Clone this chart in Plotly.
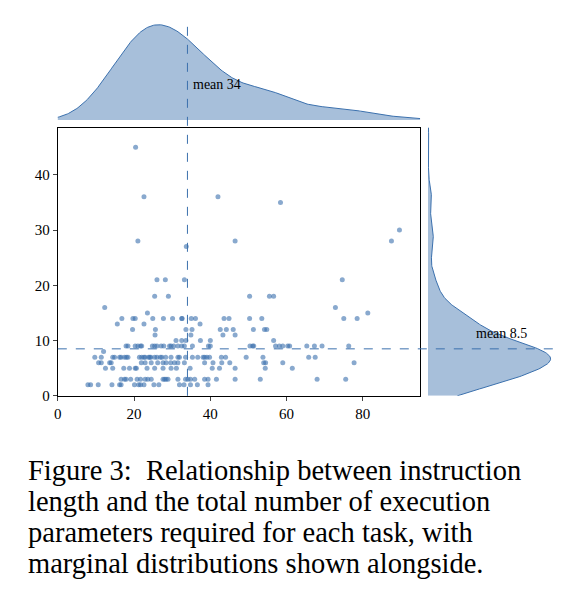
import numpy as np
import plotly.graph_objects as go

# instruction length (x) and number of execution parameters (y), grouped by y value
rows = {
    45: [20.4],
    36: [22.6, 42.0],
    35: [58.4],
    30: [89.6],
    28: [21.0, 46.5, 87.5],
    27: [33.7],
    21: [26.0, 28.2, 33.2, 74.6],
    18: [25.4, 29.0, 50.3, 55.5, 56.6],
    16: [12.3, 72.8],
    15: [23.5, 81.3],
    14: [16.8, 19.7, 20.3, 24.9, 27.7, 30.1, 32.5, 32.6, 35.0, 36.1, 43.6, 44.9, 50.3, 53.5, 75.0, 78.5],
    13: [15.6, 22.6, 37.3],
    12: [19.6, 25.6, 33.6, 35.2, 42.6, 44.2, 46.0, 51.3, 54.2, 54.8],
    11: [25.5, 34.9, 43.3, 46.5],
    10: [31.0, 32.5, 33.6, 37.4, 40.0, 56.6],
    9: [17.9, 18.4, 20.3, 21.0, 21.7, 22.0, 24.8, 25.4, 26.0, 27.1, 27.8, 29.3, 29.7, 30.4, 31.5,
        32.5, 33.2, 35.3, 39.5, 40.0, 50.4, 51.1, 51.4, 57.1, 58.1, 59.0, 60.3, 60.8, 65.3, 67.3,
        69.3, 76.3],
    8: [12.0],
    7: [9.7, 11.4, 14.4, 14.9, 16.2, 16.6, 17.5, 18.0, 18.4, 21.4, 22.0, 22.6, 22.9, 23.8, 24.1,
        24.4, 25.4, 26.0, 26.9, 27.3, 28.3, 29.7, 31.5, 31.9, 33.5, 35.3, 36.7, 38.1, 38.5, 39.1,
        39.8, 42.9, 44.0, 49.4, 53.8, 65.8, 67.5],
    6: [10.7, 11.4, 13.6, 14.0, 21.9, 22.9, 24.5, 26.2, 27.6, 28.4, 29.6, 30.6, 31.5, 33.2, 38.5,
        40.7, 43.0, 45.1, 54.0, 54.5, 59.0, 77.7],
    5: [12.5, 14.4, 17.3, 18.8, 20.3, 20.6, 23.4, 25.4, 27.6, 29.7, 31.1, 34.7, 40.5, 42.4,
        46.5, 54.4, 61.5],
    3: [16.6, 17.5, 17.9, 19.1, 20.8, 21.7, 22.9, 23.6, 24.5, 27.6, 28.0, 28.4, 28.9, 31.5, 33.5,
        34.1, 34.8, 35.9, 38.5, 39.4, 41.6, 46.5, 53.1, 68.0, 75.5],
    2: [7.9, 8.6, 10.6, 14.2, 16.2, 16.6, 20.1, 21.2, 21.7, 22.6, 25.2, 26.5, 31.9, 33.1, 34.8,
        36.6, 39.4],
}
lengths = np.array([x for y, xs in rows.items() for x in xs])
params = np.array([y for y, xs in rows.items() for x in xs], dtype=float)

caption = [
    "Figure 3:  Relationship between instruction",
    "length and the total number of execution",
    "parameters required for each task, with",
    "marginal distributions shown alongside.",
]

BLUE = "#3b70ad"
FILL = "rgba(59,112,173,0.45)"
SERIF = "Liberation Serif, Times New Roman, serif"


def kde(data, grid):
    bw = data.std(ddof=1) * len(data) ** (-1 / 5)
    z = (grid[:, None] - data[None, :]) / bw
    return np.exp(-0.5 * z ** 2).sum(axis=1) / (len(data) * bw * np.sqrt(2 * np.pi))


gx = np.linspace(lengths.min() - 20, lengths.max() + 20, 400)
gy = np.linspace(0, params.max() + 10, 400)
dx, dy = kde(lengths, gx), kde(params, gy)

fig = go.Figure()
fig.add_trace(go.Scatter(x=lengths, y=params, mode="markers",
                         marker=dict(size=5, color="rgba(59,112,173,0.6)")))
fig.add_trace(go.Scatter(x=gx, y=dx, mode="lines", fill="tozeroy", fillcolor=FILL,
                         line=dict(color=BLUE, width=1), xaxis="x2", yaxis="y2"))
fig.add_trace(go.Scatter(x=dy, y=gy, mode="lines", fill="tozerox", fillcolor=FILL,
                         line=dict(color=BLUE, width=1), xaxis="x3", yaxis="y3"))

dash = dict(color=BLUE, width=1, dash="dash")
fig.add_shape(type="line", xref="x", yref="paper", x0=34, x1=34, y0=0.346, y1=0.975, line=dash)
fig.add_shape(type="line", xref="paper", yref="y", x0=0.088, x1=0.963, y0=8.5, y1=8.5, line=dash)

fig.add_annotation(x=35, y=0.887, xref="x", yref="paper", text="mean 34", showarrow=False,
                   xanchor="left", font=dict(family=SERIF, size=14, color="black"))
fig.add_annotation(x=0.823, y=11.3, xref="paper", yref="y", text="mean 8.5", showarrow=False,
                   xanchor="left", font=dict(family=SERIF, size=14, color="black"))

for i, line in enumerate(caption):
    fig.add_annotation(x=18 / 566, y=1 - (462 + 31 * i) / 593, xref="paper", yref="paper",
                       text=line, showarrow=False, xanchor="left", yanchor="middle",
                       font=dict(family=SERIF, size=28.5, color="black"))

tick = dict(family=SERIF, size=15, color="black")
fig.update_layout(
    width=566, height=593, margin=dict(l=0, r=0, t=0, b=0),
    plot_bgcolor="white", paper_bgcolor="white", showlegend=False,
    xaxis=dict(domain=[0.088, 0.728], range=[0, 95], tickvals=[0, 20, 40, 60, 80],
               showgrid=False, zeroline=False, showline=True, mirror=True, linecolor="black",
               ticks="outside", ticklen=4, tickfont=tick, automargin=False),
    yaxis=dict(domain=[0.346, 0.798], range=[0, 48.5], tickvals=[0, 10, 20, 30, 40],
               showgrid=False, zeroline=False, showline=True, mirror=True, linecolor="black",
               ticks="outside", ticklen=4, tickfont=tick, automargin=False),
    xaxis2=dict(domain=[0.088, 0.728], range=[0, 95], anchor="y2", visible=False),
    yaxis2=dict(domain=[0.811, 0.975], range=[0, dx.max() * 1.02], anchor="x2", visible=False),
    xaxis3=dict(domain=[0.742, 0.963], range=[0, dy.max() * 1.02], anchor="y3", visible=False),
    yaxis3=dict(domain=[0.346, 0.798], range=[0, 48.5], anchor="x3", visible=False),
)

fig.write_html("out.html")
